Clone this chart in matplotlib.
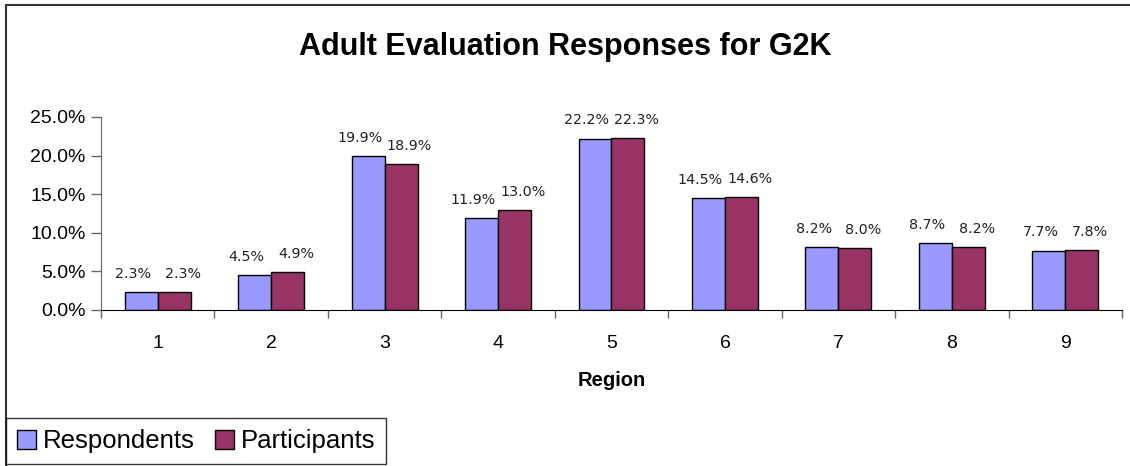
import matplotlib.pyplot as plt
import numpy as np
from matplotlib.patches import Rectangle
from matplotlib.ticker import FuncFormatter, MultipleLocator

regions = ["1", "2", "3", "4", "5", "6", "7", "8", "9"]
respondents = [2.3, 4.5, 19.9, 11.9, 22.2, 14.5, 8.2, 8.7, 7.7]
participants = [2.3, 4.9, 18.9, 13.0, 22.3, 14.6, 8.0, 8.2, 7.8]

plt.rcParams["font.family"] = ["Liberation Sans", "DejaVu Sans"]

fig = plt.figure(figsize=(11.3, 4.66), dpi=100)
ax = fig.add_axes([0.0894, 0.3348, 0.9035, 0.4142])

x = np.arange(len(regions))
w = 0.29
b1 = ax.bar(x - w / 2, respondents, w, color="#9999FF", edgecolor="black", linewidth=1, label="Respondents")
b2 = ax.bar(x + w / 2, participants, w, color="#993366", edgecolor="black", linewidth=1, label="Participants")

# value labels, nudged apart so neighbours don't collide
for bars, vals, dx in ((b1, respondents, -6), (b2, participants, 6)):
    for rect, v in zip(bars, vals):
        ax.annotate(f"{v:.1f}%", (rect.get_x() + rect.get_width() / 2, v),
                    xytext=(dx, 8), textcoords="offset points", ha="center", va="bottom",
                    fontsize=10.3, fontfamily="DejaVu Sans", color="#222222")

ax.set_xlim(-0.5, len(regions) - 0.5)
ax.set_ylim(0, 25)
ax.yaxis.set_major_locator(MultipleLocator(5))
ax.yaxis.set_major_formatter(FuncFormatter(lambda v, p: f"{v:.1f}%"))
ax.set_xticks(x)
ax.set_xticklabels(regions)
ax.set_xticks(np.arange(len(regions) + 1) - 0.5, minor=True)
ax.tick_params(axis="x", which="major", length=0, labelsize=14, pad=18)
ax.tick_params(axis="x", which="minor", length=6, width=1, color="#666666")
ax.tick_params(axis="y", length=7, width=1, labelsize=14, color="#666666", pad=4)
for s in ("top", "right"):
    ax.spines[s].set_visible(False)
ax.spines["left"].set_color("#666666")
ax.spines["bottom"].set_color("black")
ax.set_xlabel("Region", fontsize=14.5, fontweight="bold", labelpad=14)

fig.text(0.5, 1 - 47 / 466, "Adult Evaluation Responses for G2K", ha="center", va="center",
         fontsize=22, fontweight="bold")

fig.patches.append(Rectangle((6 / 1130, -0.1), 1.2, 1 - 5 / 466 + 0.1, transform=fig.transFigure,
                             fill=False, edgecolor="#333333", linewidth=1.5))

leg = fig.legend(handles=[b1, b2], loc="lower left", bbox_to_anchor=(6 / 1130, 2 / 466),
                 ncol=2, fontsize=18.5, frameon=True, fancybox=False, borderaxespad=0,
                 handlelength=0.75, handleheight=0.75, handletextpad=0.25, columnspacing=0.8,
                 borderpad=0.42)
leg.get_frame().set_edgecolor("black")
leg.get_frame().set_linewidth(1)

fig.savefig("out.png", dpi=100)
